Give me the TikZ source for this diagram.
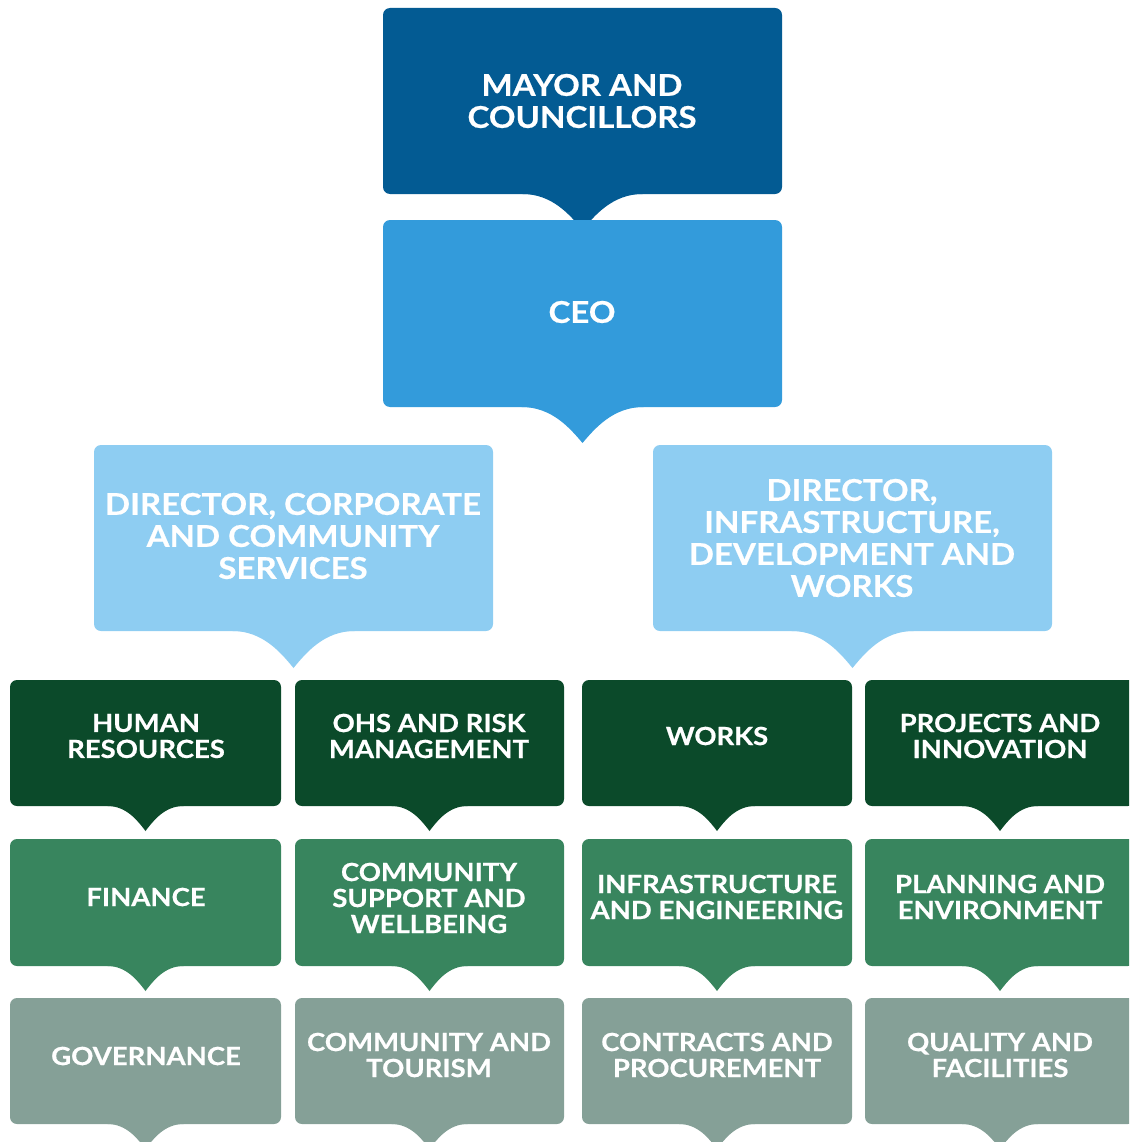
\documentclass[tikz,border=0pt]{standalone}
\usepackage{fontspec}
\setmainfont{Lato}[BoldFeatures={FakeStretch=1.1, FakeBold=0.6}]
\usepackage{xcolor}
\definecolor{mayor blue}{HTML}{035B93}
\definecolor{ceo blue}{HTML}{339BDB}
\definecolor{director blue}{HTML}{8ECDF2}
\definecolor{dark green}{HTML}{0B4A2A}
\definecolor{mid green}{HTML}{38855E}
\definecolor{grey green}{HTML}{85A097}
% #1 left, #2 top, #3 right, #4 bottom, #5 colour, #6 tab half width, #7 tab depth
\newcommand\orgbox[7]{%
    \fill[#5, rounded corners=7] (#1,#2) rectangle (#3,#4);
    \pgfmathsetmacro\tabx{(#1+#3)/2}
    \fill[#5, shift={(\tabx,#4)}, xscale=#6, yscale=#7]
        (-1,-0.2) -- (-1,0) .. controls (-0.5,0) and (-0.2,0.6) .. (0,1)
        .. controls (0.2,0.6) and (0.5,0) .. (1,0) -- (1,-0.2) -- cycle;}
\tikzset{bigtext/.style={text=white, align=center, inner sep=0pt,
        font=\bfseries\fontsize{30}{32}\selectfont},
    smalltext/.style={text=white, align=center, inner sep=0pt,
        font=\bfseries\fontsize{25}{26}\selectfont}}

\begin{document}
\begin{tikzpicture}[x=1pt, y=-1pt]
    \useasboundingbox (0,0) rectangle (1129,1142);
    \clip (0,0) rectangle (1129,1142);
    % top of the tree
    \orgbox{383}{8}{782}{194}{mayor blue}{60}{36}
    \orgbox{383}{220}{782}{407}{ceo blue}{61}{36}
    \orgbox{94}{445}{493}{631}{director blue}{61}{37}
    \orgbox{653}{445}{1052}{631}{director blue}{61}{37}
    \node[bigtext] (mayor) at (582,101) {MAYOR AND\\COUNCILLORS};
    \node[bigtext] (ceo) at (582,312) {CEO};
    \node[bigtext] (corporate) at (293,536) {DIRECTOR, CORPORATE\\AND COMMUNITY\\SERVICES};
    \node[bigtext] (infrastructure) at (852,538) {DIRECTOR,\\INFRASTRUCTURE,\\DEVELOPMENT AND\\WORKS};
    % first row of units
    \orgbox{10}{680}{281}{806}{dark green}{38}{25}
    \orgbox{295}{680}{564}{806}{dark green}{38}{25}
    \orgbox{582}{680}{852}{806}{dark green}{38}{25}
    \orgbox{865}{680}{1135}{806}{dark green}{38}{25}
    \node[smalltext] (hr) at (146,736) {HUMAN\\RESOURCES};
    \node[smalltext] (ohs) at (429,736) {OHS AND RISK\\MANAGEMENT};
    \node[smalltext] (works) at (717,736) {WORKS};
    \node[smalltext] (projects) at (1000,736) {PROJECTS AND\\INNOVATION};
    % second row
    \orgbox{10}{839}{281}{966}{mid green}{38}{25}
    \orgbox{295}{839}{564}{966}{mid green}{38}{25}
    \orgbox{582}{839}{852}{966}{mid green}{38}{25}
    \orgbox{865}{839}{1135}{966}{mid green}{38}{25}
    \node[smalltext] (finance) at (146,897) {FINANCE};
    \node[smalltext] (support) at (429,898) {COMMUNITY\\SUPPORT AND\\WELLBEING};
    \node[smalltext] (engineering) at (717,897) {INFRASTRUCTURE\\AND ENGINEERING};
    \node[smalltext] (planning) at (1000,897) {PLANNING AND\\ENVIRONMENT};
    % third row
    \orgbox{10}{998}{281}{1124}{grey green}{38}{25}
    \orgbox{295}{998}{564}{1124}{grey green}{38}{25}
    \orgbox{582}{998}{852}{1124}{grey green}{38}{25}
    \orgbox{865}{998}{1135}{1124}{grey green}{38}{25}
    \node[smalltext] (governance) at (146,1056) {GOVERNANCE};
    \node[smalltext] (tourism) at (429,1055) {COMMUNITY AND\\TOURISM};
    \node[smalltext] (contracts) at (717,1055) {CONTRACTS AND\\PROCUREMENT};
    \node[smalltext] (quality) at (1000,1055) {QUALITY AND\\FACILITIES};
\end{tikzpicture}
\end{document}
